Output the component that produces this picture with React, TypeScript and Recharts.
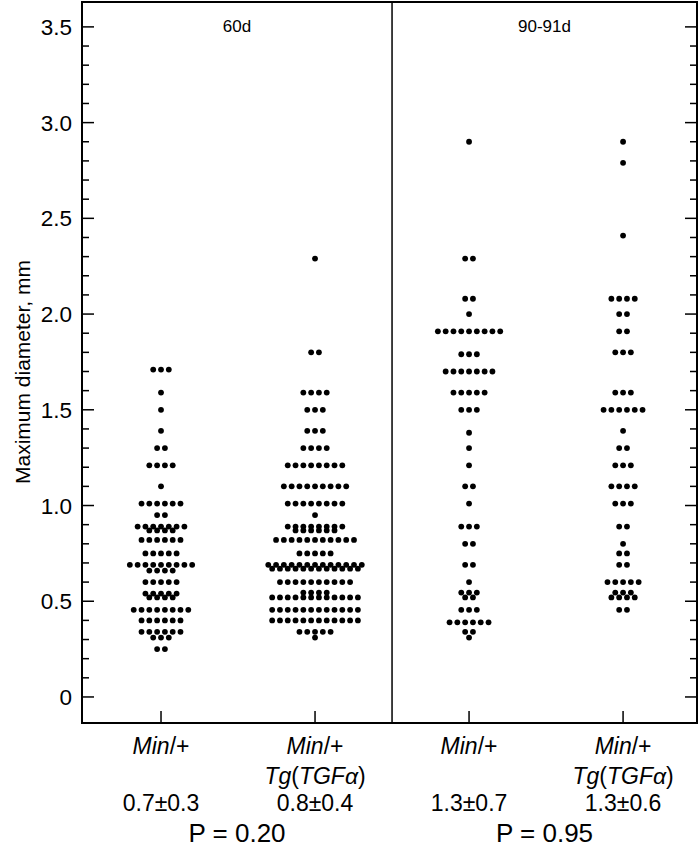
import {
  ScatterChart,
  Scatter,
  XAxis,
  YAxis,
  ReferenceArea,
  ReferenceLine,
  Label,
} from "recharts";

// rows of the dot plot: [diameter in mm, number of tumours at that diameter]
const MIN_60D: [number, number][] = [
  [1.71, 3], [1.59, 1], [1.5, 1], [1.39, 1], [1.3, 2], [1.21, 4], [1.1, 1],
  [1.01, 6], [0.95, 2], [0.89, 7], [0.87, 4], [0.82, 6], [0.75, 5], [0.69, 9],
  [0.66, 4], [0.6, 5], [0.54, 5], [0.52, 4], [0.455, 8], [0.4, 6], [0.34, 6],
  [0.31, 3], [0.25, 2],
];

const TG_60D: [number, number][] = [
  [2.29, 1], [1.8, 2], [1.59, 4], [1.5, 3], [1.39, 3], [1.3, 4], [1.21, 8],
  [1.1, 9], [1.01, 8], [0.95, 1], [0.89, 8], [0.87, 6], [0.82, 11], [0.75, 5],
  [0.69, 13], [0.67, 12], [0.6, 10], [0.545, 4], [0.52, 12], [0.455, 12],
  [0.4, 12], [0.34, 5], [0.31, 1],
];

const MIN_90D: [number, number][] = [
  [2.9, 1], [2.29, 2], [2.08, 2], [2.0, 1], [1.91, 9], [1.79, 3], [1.7, 7],
  [1.59, 5], [1.5, 3], [1.38, 1], [1.3, 1], [1.21, 1], [1.1, 2], [1.01, 1],
  [0.89, 3], [0.8, 2], [0.69, 2], [0.6, 1], [0.545, 3], [0.52, 2], [0.455, 3],
  [0.39, 6], [0.34, 2], [0.31, 1],
];

const TG_90D: [number, number][] = [
  [2.9, 1], [2.79, 1], [2.41, 1], [2.08, 4], [2.0, 2], [1.91, 2], [1.8, 3],
  [1.59, 3], [1.5, 6], [1.39, 1], [1.3, 2], [1.21, 3], [1.1, 4], [1.01, 3],
  [0.89, 2], [0.8, 1], [0.75, 2], [0.69, 2], [0.6, 5], [0.545, 3], [0.52, 4],
  [0.455, 2],
];

const GROUPS = [MIN_60D, TG_60D, MIN_90D, TG_90D];
const GROUP_IS_TG = [false, true, false, true];
const MEAN_SD = ["0.7±0.3", "0.8±0.4", "1.3±0.7", "1.3±0.6"];
const PANELS = ["60d", "90-91d"];
const P_VALUES = ["P = 0.20", "P = 0.95"];
const MAJOR_TICKS = [0, 0.5, 1, 1.5, 2, 2.5, 3, 3.5];

const X_DOMAIN: [number, number] = [-0.513, 3.48];
const Y_DOMAIN: [number, number] = [-0.136, 3.63];
const DOT_STEP = 0.0506; // horizontal spacing between neighbouring dots (x units)
const PLOT_W = 615;
const FONT = "'Liberation Sans', Arial, sans-serif";

// spread each row sideways around its group centre
const points = GROUPS.flatMap((rows, g) =>
  rows.flatMap(([y, n]) =>
    Array.from({ length: n }, (_, j) => ({ x: g + (j - (n - 1) / 2) * DOT_STEP, y }))
  )
);

const yTicks = Array.from({ length: 36 }, (_, i) => i / 10);

const YTick = (props: any) => {
  const { x, y, payload } = props;
  const major = MAJOR_TICKS.some((t) => Math.abs(t - payload.value) < 1e-6);
  const len = major ? 12 : 7;
  return (
    <g>
      <line x1={x} y1={y} x2={x + len} y2={y} stroke="#000" strokeWidth={1.5} />
      <line x1={x + PLOT_W} y1={y} x2={x + PLOT_W - len} y2={y} stroke="#000" strokeWidth={1.5} />
      {major && (
        <text x={x - 10} y={y} dy="0.36em" textAnchor="end" fontSize={22.5} fontFamily={FONT} fill="#000">
          {payload.value === 0 ? "0" : payload.value.toFixed(1)}
        </text>
      )}
    </g>
  );
};

const XTick = (props: any) => {
  const { x, y, payload } = props;
  const i = Math.round(payload.value);
  return (
    <g fontFamily={FONT} fontSize={23} fill="#000">
      <line x1={x} y1={y} x2={x} y2={y - 12} stroke="#000" strokeWidth={1.5} />
      <text x={x} y={y + 31} textAnchor="middle">
        <tspan fontStyle="italic">Min</tspan>/+
      </text>
      {GROUP_IS_TG[i] && (
        <text x={x} y={y + 61} textAnchor="middle">
          <tspan fontStyle="italic">Tg</tspan>(<tspan fontStyle="italic">TGFα</tspan>)
        </text>
      )}
      <text x={x} y={y + 88} textAnchor="middle">
        {MEAN_SD[i]}
      </text>
    </g>
  );
};

export default function App() {
  return (
    <div style={{ position: "absolute", left: 0, top: 0, background: "#fff" }}>
      <ScatterChart width={700} height={853} margin={{ top: 2, right: 3, bottom: 0, left: 0 }}>
        <XAxis
          type="number"
          dataKey="x"
          domain={X_DOMAIN}
          ticks={[0, 1, 2, 3]}
          allowDataOverflow
          axisLine={false}
          tickLine={false}
          tickSize={0}
          tickMargin={0}
          height={130}
          tick={<XTick />}
          interval={0}
        />
        <YAxis
          type="number"
          dataKey="y"
          domain={Y_DOMAIN}
          ticks={yTicks}
          allowDataOverflow
          axisLine={false}
          tickLine={false}
          tickSize={0}
          tickMargin={0}
          width={82}
          tick={<YTick />}
          interval={0}
        >
          <Label
            content={() => (
              <text
                x={22}
                y={372}
                transform="rotate(-90 22 372)"
                textAnchor="middle"
                dominantBaseline="central"
                fontSize={21}
                fontFamily={FONT}
                fill="#000"
              >
                Maximum diameter, mm
              </text>
            )}
          />
        </YAxis>
        <ReferenceArea
          x1={X_DOMAIN[0]}
          x2={1.5}
          y1={Y_DOMAIN[0]}
          y2={Y_DOMAIN[1]}
          fill="none"
          stroke="none"
        >
          <Label value={PANELS[0]} position="insideTop" offset={18} fontSize={17} fontFamily={FONT} fill="#000" />
          <Label value={P_VALUES[0]} position="bottom" offset={101} fontSize={26} fontFamily={FONT} fill="#000" />
        </ReferenceArea>
        <ReferenceArea
          x1={1.5}
          x2={X_DOMAIN[1]}
          y1={Y_DOMAIN[0]}
          y2={Y_DOMAIN[1]}
          fill="none"
          stroke="none"
        >
          <Label value={PANELS[1]} position="insideTop" offset={18} fontSize={17} fontFamily={FONT} fill="#000" />
          <Label value={P_VALUES[1]} position="bottom" offset={101} fontSize={26} fontFamily={FONT} fill="#000" />
        </ReferenceArea>
        <ReferenceArea
          x1={X_DOMAIN[0]}
          x2={X_DOMAIN[1]}
          y1={Y_DOMAIN[0]}
          y2={Y_DOMAIN[1]}
          fill="none"
          stroke="#000"
          strokeWidth={2}
        />
        <ReferenceLine x={1.5} stroke="#000" strokeWidth={1.5} />
        <Scatter
          data={points}
          isAnimationActive={false}
          shape={(p: any) => <circle cx={p.cx} cy={p.cy} r={2.9} fill="#000" />}
        />
      </ScatterChart>
    </div>
  );
}
